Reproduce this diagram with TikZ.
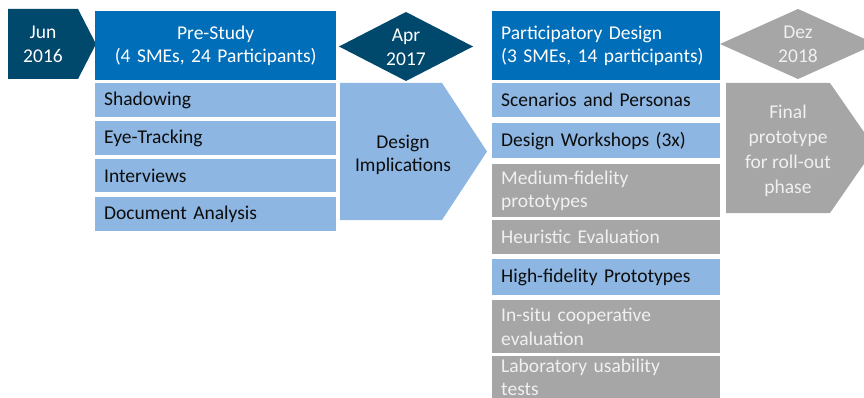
\documentclass[tikz,border=0pt]{standalone}
\usepackage{fontspec}
\setmainfont{Carlito}
\usepackage{tikz}
\usetikzlibrary{calc}
\definecolor{navy}{RGB}{0,72,108}
\definecolor{headblue}{RGB}{0,110,184}
\definecolor{lightblue}{RGB}{141,182,226}
\definecolor{midgray}{RGB}{166,166,166}
\definecolor{palegray}{RGB}{240,240,240}
\tikzstyle{basebox}=[rectangle,anchor=north west,inner xsep=9pt,inner ysep=0pt,
                     font=\fontsize{19.5}{23.5}\selectfont]
\tikzstyle{headbox}=[basebox,fill=headblue,text=white,minimum height=69pt]
\tikzstyle{bluebox}=[basebox,fill=lightblue,text=black!95]
\tikzstyle{graybox}=[basebox,fill=midgray,text=palegray]
\tikzstyle{marker}=[font=\fontsize{19.5}{23.5}\selectfont,align=center,inner sep=0pt]
\newcommand\leftwidth{223pt}
\newcommand\rightwidth{210pt}

\begin{document}
\begin{tikzpicture}[x=1pt,y=-1pt]
    \useasboundingbox (0,0) rectangle (864,398);
    \clip (0,0) rectangle (864,398);
    % milestones
    \fill [navy] (8,9) -- (78,9) -- (96,44) -- (78,79) -- (8,79) -- cycle;
    \node [marker,text=white] (Jun) at (43,44.5) {Jun\\2016};
    \fill [navy] (339,46.5) -- (406,12) -- (473,46.5) -- (406,81) -- cycle;
    \node [marker,text=white] (Apr) at (406,47.5) {Apr\\2017};
    \fill [midgray] (720,44) -- (798,9) -- (876,44) -- (798,79) -- cycle;
    \node [marker,text=palegray] (Dez) at (798,44.5) {Dez\\2018};

    % pre-study
    \node [headbox,text width=\leftwidth,align=center] (PreStudy) at (95,11) {
        Pre-Study\\(4 SMEs, 24 Participants)
    };
    \node [bluebox,text width=\leftwidth,align=left,minimum height=34pt] (Shadowing) at (95,83) {Shadowing};
    \node [bluebox,text width=\leftwidth,align=left,minimum height=34pt] (Eye) at (95,121) {Eye-Tracking};
    \node [bluebox,text width=\leftwidth,align=left,minimum height=33pt] (Interviews) at (95,159) {Interviews};
    \node [bluebox,text width=\leftwidth,align=left,minimum height=34pt] (Documents) at (95,197) {Document Analysis};

    % design implications
    \fill [lightblue] (340,83) -- (442,83) -- (487,151.5) -- (442,220) -- (340,220) -- cycle;
    \node [marker,text=black!95] (Implications) at (403,155) {Design\\Implications};

    % participatory design
    \node [headbox,text width=\rightwidth,align=left] (Participatory) at (492,11) {
        Participatory Design\\(3 SMEs, 14 participants)
    };
    \node [bluebox,text width=\rightwidth,align=left,minimum height=34pt] (Scenarios) at (492,83) {Scenarios and Personas};
    \node [bluebox,text width=\rightwidth,align=left,minimum height=35pt] (Workshops) at (492,123) {Design Workshops (3x)};
    \node [graybox,text width=\rightwidth,align=left,minimum height=53pt] (Medium) at (492,164) {Medium-fidelity\\prototypes};
    \node [graybox,text width=\rightwidth,align=left,minimum height=34pt] (Heuristic) at (492,220) {Heuristic Evaluation};
    \node [bluebox,text width=\rightwidth,align=left,minimum height=36pt] (High) at (492,259) {High-fidelity Prototypes};
    \node [graybox,text width=\rightwidth,align=left,minimum height=53pt] (InSitu) at (492,300) {In-situ cooperative\\evaluation};
    \node [graybox,text width=\rightwidth,align=left,minimum height=42pt] (Laboratory) at (492,356) {Laboratory usability\\tests};

    % final prototype
    \fill [midgray] (726,83) -- (830,83) -- (875,148) -- (830,213) -- (726,213) -- cycle;
    \node [marker,text=palegray,font=\fontsize{19.5}{25}\selectfont] (Final) at (788,151) {Final\\prototype\\for roll-out\\phase};
\end{tikzpicture}
\end{document}
